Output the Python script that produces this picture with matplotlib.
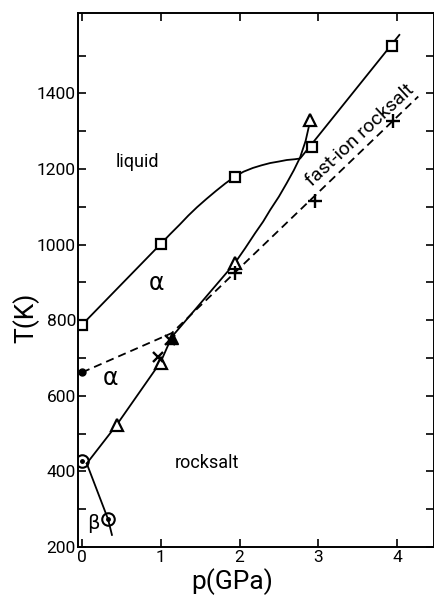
import matplotlib
matplotlib.use("Agg")
import matplotlib.pyplot as plt

plt.rcParams['font.family'] = ['Roboto', 'DejaVu Sans']

# ---- data ----
# liquidus (squares)
liq_line_p = [0.0, 1.0, 1.12, 1.24, 1.35, 1.46, 1.58, 1.7, 1.82, 1.94, 2.05,
              2.17, 2.28, 2.39, 2.5, 2.6, 2.7, 2.77, 4.03]
liq_line_T = [788, 1002, 1028, 1053, 1077, 1099, 1121, 1142, 1162, 1180, 1193,
              1203, 1210, 1216, 1220, 1224, 1226, 1228, 1555]
sq_p = [0.0, 1.0, 1.94, 2.92, 3.94]
sq_T = [788, 1002, 1180, 1259, 1525]

# alpha / rocksalt boundary (triangles)
ar_line_p = [0.06, 0.44, 1.0, 1.14, 1.94, 2.07, 2.2, 2.3, 2.39, 2.5, 2.6,
             2.69, 2.77, 2.84, 2.9]
ar_line_T = [421, 523, 690, 756, 951, 990, 1031, 1061, 1092, 1127, 1163,
             1197, 1231, 1275, 1330]
tri_p = [0.44, 1.0, 1.94, 2.9]
tri_T = [523, 688, 951, 1330]
tri_filled_p = [1.14]
tri_filled_T = [752]

# beta / rocksalt boundary (circles)
br_line_p = [0.06, 0.33, 0.38]
br_line_T = [421, 274, 232]
circ_p = [0.0, 0.33]
circ_T = [428, 274]

# fast-ion transition (dashed, crosses)
fi_line_p = [0.0, 1.14, 4.27]
fi_line_T = [662, 766, 1392]
dot_p = [0.0]
dot_T = [662]
plus_p = [1.94, 2.96, 3.95]
plus_T = [925, 1115, 1328]
x_p = [0.97, 1.12]
x_T = [702, 748]

xticks = [0, 1, 2, 3, 4]
xtick_labels = ['0', '1', '2', '3', '4']
yticks = list(range(200, 1501, 100))
ytick_labels = ['200', '', '400', '', '600', '', '800', '', '1000', '',
                '1200', '', '1400', '']

# ---- figure ----
fig = plt.figure(figsize=(4.35, 6.0), dpi=100)
ax = fig.add_axes([78 / 435, 1 - 547 / 600, 356 / 435, 534 / 600])
lw = 1.3
k = 'black'

ax.plot(liq_line_p, liq_line_T, color=k, lw=lw)
ax.plot(ar_line_p, ar_line_T, color=k, lw=lw)
ax.plot(br_line_p, br_line_T, color=k, lw=lw)
ax.plot(fi_line_p, fi_line_T, color=k, lw=lw, dashes=(4.5, 2.8))

ax.plot(sq_p, sq_T, ls='none', marker='s', ms=7.5, mfc='white', mec=k, mew=1.6)
ax.plot(tri_p, tri_T, ls='none', marker='^', ms=8, mfc='white', mec=k, mew=1.6)
ax.plot(tri_filled_p, tri_filled_T, ls='none', marker='^', ms=8, mfc=k, mec=k)
ax.plot(circ_p, circ_T, ls='none', marker='o', ms=9, mfc='none', mec=k, mew=1.5)
ax.plot(circ_p, circ_T, ls='none', marker='o', ms=2.5, mfc=k, mec=k)
ax.plot(dot_p, dot_T, ls='none', marker='o', ms=5, mfc=k, mec=k)
ax.plot(plus_p, plus_T, ls='none', marker='+', ms=10, mec=k, mew=1.7)
ax.plot(x_p, x_T, ls='none', marker='x', ms=7, mec=k, mew=1.7)

# region labels
ax.text(0.70, 1218, 'liquid', fontsize=13, ha='center', va='center')
ax.text(0.95, 898, 'α', fontsize=17, ha='center', va='center',
        family=['DejaVu Sans'])
ax.text(0.36, 647, 'α', fontsize=17, ha='center', va='center',
        family=['DejaVu Sans'])
ax.text(1.59, 422, 'rocksalt', fontsize=13, ha='center', va='center')
ax.text(0.14, 263, 'β', fontsize=14, ha='center', va='center',
        family=['DejaVu Sans'])
ax.text(3.53, 1290, 'fast-ion rocksalt', fontsize=14, ha='center',
        va='center', rotation=43, rotation_mode='anchor')

ax.set_xlim(-0.051, 4.47)
ax.set_ylim(200, 1613)
ax.set_xticks(xticks)
ax.set_xticklabels(xtick_labels)
ax.set_yticks(yticks)
ax.set_yticklabels(ytick_labels)
ax.tick_params(axis='both', direction='in', length=6, width=1.2,
               labelsize=12.5, top=True, right=True)
ax.tick_params(axis='y', pad=1.5)
ax.tick_params(axis='x', pad=2)
for s in ax.spines.values():
    s.set_linewidth(1.4)

fig.text(232 / 435, 1 - 582 / 600, 'p(GPa)', fontsize=19, ha='center', va='center')
fig.text(26 / 435, 1 - 318 / 600, 'T(K)', fontsize=19, ha='center', va='center',
         rotation=90)

fig.savefig('out.png', dpi=100)
